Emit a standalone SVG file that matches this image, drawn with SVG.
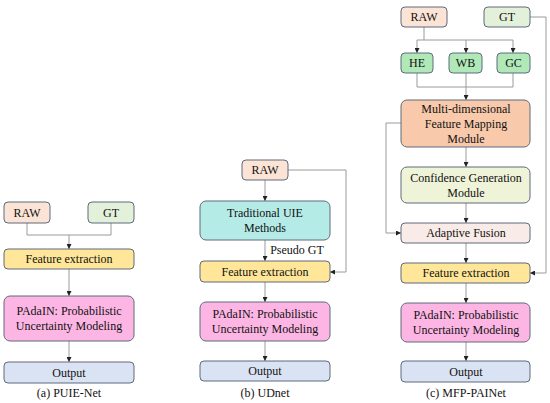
<svg xmlns="http://www.w3.org/2000/svg" width="550" height="403" viewBox="0 0 550 403">
<defs>
<marker id="ah" viewBox="0 0 6 6" refX="6" refY="3" markerWidth="5" markerHeight="5" orient="auto" markerUnits="userSpaceOnUse">
<path d="M0,0 L6,3 L0,6 z" fill="#222"/>
</marker>
<style>
.n{stroke:#5f6b7c;stroke-width:1}
.t{font-family:"Liberation Serif","Times New Roman",serif;font-size:12px;fill:#111;text-anchor:middle;dominant-baseline:central}
.c{fill:none;stroke:#9a9a9a;stroke-width:1}
.a{marker-end:url(#ah)}
.raw{fill:#fbe4d5}.gt{fill:#e3f0da}.fe{fill:#ffe699}.pa{fill:#fdb6e4}.out{fill:#dae3f3}
.tu{fill:#b5ebe6}.hx{fill:#b0e8b8}.md{fill:#f8c9ab}.cg{fill:#eff4d8}.af{fill:#f9ebe7}
</style>
</defs>
<rect width="550" height="403" fill="#fff"/>

<g id="connectors">
<!-- a -->
<path class="c" d="M27,223 V235 H111 V223"/>
<path class="c a" d="M69,235 V249"/>
<path class="c a" d="M69,269 V296"/>
<path class="c a" d="M69,341 V362"/>
<!-- b -->
<path class="c a" d="M265,180 V201"/>
<path class="c a" d="M265,240 V261"/>
<path class="c a" d="M288,170 H346 V272 H330"/>
<path class="c a" d="M265,282 V302"/>
<path class="c a" d="M265,341 V361"/>
<!-- c -->
<path class="c" d="M424,27 V40"/>
<path class="c a" d="M417,40 V53"/>
<path class="c a" d="M466,40 V53"/>
<path class="c a" d="M513,40 V53"/>
<path class="c" d="M417,40 H513"/>
<path class="c" d="M417,73 V87 H513 V73"/>
<path class="c a" d="M466,73 V100"/>
<path class="c a" d="M466,147 V167"/>
<path class="c a" d="M466,203 V223"/>
<path class="c a" d="M401,123 H386 V233 H401"/>
<path class="c a" d="M466,243 V263"/>
<path class="c a" d="M530,17 H546 V273 H530"/>
<path class="c a" d="M466,283 V303"/>
<path class="c a" d="M466,342 V361"/>
</g>

<g id="a-raw"><rect class="n raw" x="4" y="202" width="46" height="21" rx="4"/><text class="t" x="27" y="212.5">RAW</text></g>
<g id="a-gt"><rect class="n gt" x="88" y="202" width="46" height="21" rx="4"/><text class="t" x="111" y="212.5">GT</text></g>
<g id="a-fe"><rect class="n fe" x="4" y="249" width="130" height="20" rx="4"/><text class="t" x="69" y="259">Feature extraction</text></g>
<g id="a-pa"><rect class="n pa" x="4" y="296" width="130" height="45" rx="6"/><text class="t" x="69" y="311">PAdaIN: Probabilistic</text><text class="t" x="69" y="326">Uncertainty Modeling</text></g>
<g id="a-out"><rect class="n out" x="4" y="362" width="130" height="21" rx="4"/><text class="t" x="69" y="372.5">Output</text></g>
<text class="t" x="69" y="393">(a) PUIE-Net</text>

<g id="b-raw"><rect class="n raw" x="242" y="160" width="46" height="20" rx="4"/><text class="t" x="265" y="170">RAW</text></g>
<g id="b-tu"><rect class="n tu" x="200" y="201" width="130" height="39" rx="6"/><text class="t" x="265" y="213">Traditional UIE</text><text class="t" x="265" y="228">Methods</text></g>
<text class="t" x="297" y="250">Pseudo GT</text>
<g id="b-fe"><rect class="n fe" x="200" y="261" width="130" height="21" rx="4"/><text class="t" x="265" y="271.5">Feature extraction</text></g>
<g id="b-pa"><rect class="n pa" x="200" y="302" width="130" height="39" rx="6"/><text class="t" x="265" y="314">PAdaIN: Probabilistic</text><text class="t" x="265" y="329">Uncertainty Modeling</text></g>
<g id="b-out"><rect class="n out" x="200" y="361" width="130" height="20" rx="4"/><text class="t" x="265" y="371">Output</text></g>
<text class="t" x="265" y="393">(b) UDnet</text>

<g id="c-raw"><rect class="n raw" x="401" y="7" width="46" height="20" rx="4"/><text class="t" x="424" y="17">RAW</text></g>
<g id="c-gt"><rect class="n gt" x="484" y="7" width="46" height="20" rx="4"/><text class="t" x="507" y="17">GT</text></g>
<g id="c-he"><rect class="n hx" x="401" y="53" width="32" height="20" rx="4"/><text class="t" x="417" y="63">HE</text></g>
<g id="c-wb"><rect class="n hx" x="449" y="53" width="33" height="20" rx="4"/><text class="t" x="465.5" y="63">WB</text></g>
<g id="c-gc"><rect class="n hx" x="497" y="53" width="33" height="20" rx="4"/><text class="t" x="513.5" y="63">GC</text></g>
<g id="c-md"><rect class="n md" x="401" y="100" width="129" height="47" rx="6"/><text class="t" x="466" y="109">Multi-dimensional</text><text class="t" x="466" y="124">Feature Mapping</text><text class="t" x="466" y="139">Module</text></g>
<g id="c-cg"><rect class="n cg" x="401" y="167" width="129" height="36" rx="6"/><text class="t" x="466" y="178">Confidence Generation</text><text class="t" x="466" y="193">Module</text></g>
<g id="c-af"><rect class="n af" x="401" y="223" width="129" height="20" rx="4"/><text class="t" x="466" y="233">Adaptive Fusion</text></g>
<g id="c-fe"><rect class="n fe" x="401" y="263" width="129" height="20" rx="4"/><text class="t" x="466" y="273">Feature extraction</text></g>
<g id="c-pa"><rect class="n pa" x="401" y="303" width="129" height="39" rx="6"/><text class="t" x="466" y="315">PAdaIN: Probabilistic</text><text class="t" x="466" y="330">Uncertainty Modeling</text></g>
<g id="c-out"><rect class="n out" x="401" y="361" width="129" height="21" rx="4"/><text class="t" x="466" y="371.5">Output</text></g>
<text class="t" x="466" y="393">(c) MFP-PAINet</text>
</svg>
